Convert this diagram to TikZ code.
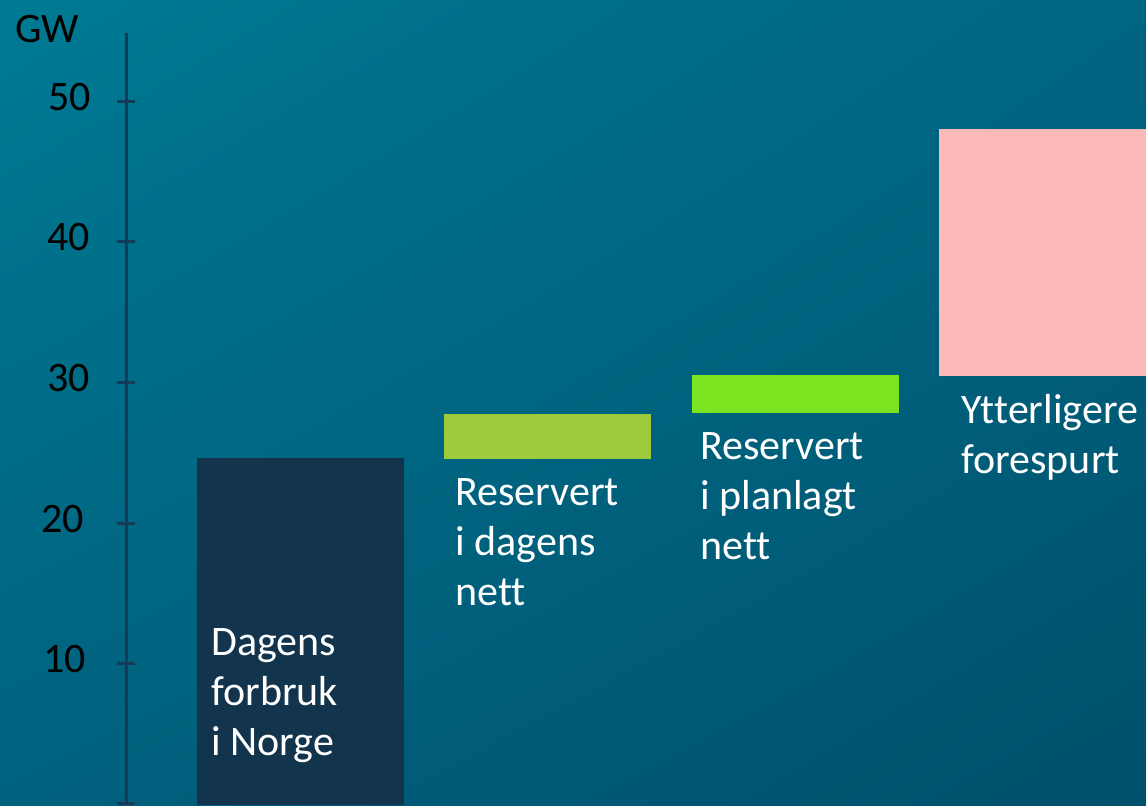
\documentclass[tikz,border=0pt]{standalone}
\usepackage{fontspec}
\setmainfont{Carlito}[Ligatures=NoCommon]
\usetikzlibrary{positioning,shadings}

\definecolor{bgtl}{HTML}{007A93}
\definecolor{bgtr}{HTML}{006581}
\definecolor{bgbl}{HTML}{00617E}
\definecolor{bgbr}{HTML}{00506C}
\definecolor{axisblue}{HTML}{173B56}
\definecolor{nowbar}{HTML}{12344C}
\definecolor{resgreen}{HTML}{9DC93D}
\definecolor{plangreen}{HTML}{7BE31F}
\definecolor{askpink}{HTML}{FBBAB8}

\begin{document}
\begin{tikzpicture}[
  x=0.5pt,y=-0.5pt,
  bar/.style={draw=none},
  lbl/.style={text=white,anchor=base west,align=left,inner sep=0pt,
    font=\fontsize{21}{25}\selectfont},
  ylbl/.style={text=black,anchor=base east,inner sep=0pt,font=\fontsize{21}{25}\selectfont},
  tickmark/.style={axisblue,line width=1.5pt}]
% background
\shade[upper left=bgtl,upper right=bgtr,lower left=bgbl,lower right=bgbr]
  (0,0) rectangle (1146,805);
\useasboundingbox (0,0) rectangle (1146,805);
% axis
\coordinate (axtop) at (126,33);
\coordinate (axbot) at (126,805);
\draw[tickmark] (axtop) -- (axbot);
\foreach \v/\y/\xr in {50/101/91,40/241/90,30/382/90,20/523/84,10/663/86}{
  \draw[tickmark] (117,\y) -- (135,\y);
  \node[ylbl] (y\v) at (\xr,\y+9) {\v};
}
\draw[tickmark] (117,803) -- (135,803);
\node[ylbl,anchor=base west] (unit) at (15,42) {GW};
% bars
\fill[bar,nowbar] (197,458) rectangle (404,805);
\fill[bar,resgreen] (444,414) rectangle (651,459);
\fill[bar,plangreen] (692,375) rectangle (899,413);
\fill[bar,askpink] (939,129) rectangle (1146,376);
% labels (base = last line)
\node[lbl] (now) at (211,755) {Dagens\\forbruk\\i Norge};
\node[lbl] (res) at (455,605) {Reservert\\i dagens\\nett};
\node[lbl] (plan) at (700,559) {Reservert\\i planlagt\\nett};
\node[lbl] (ask) at (961,473) {Ytterligere\\forespurt};
\end{tikzpicture}
\end{document}
